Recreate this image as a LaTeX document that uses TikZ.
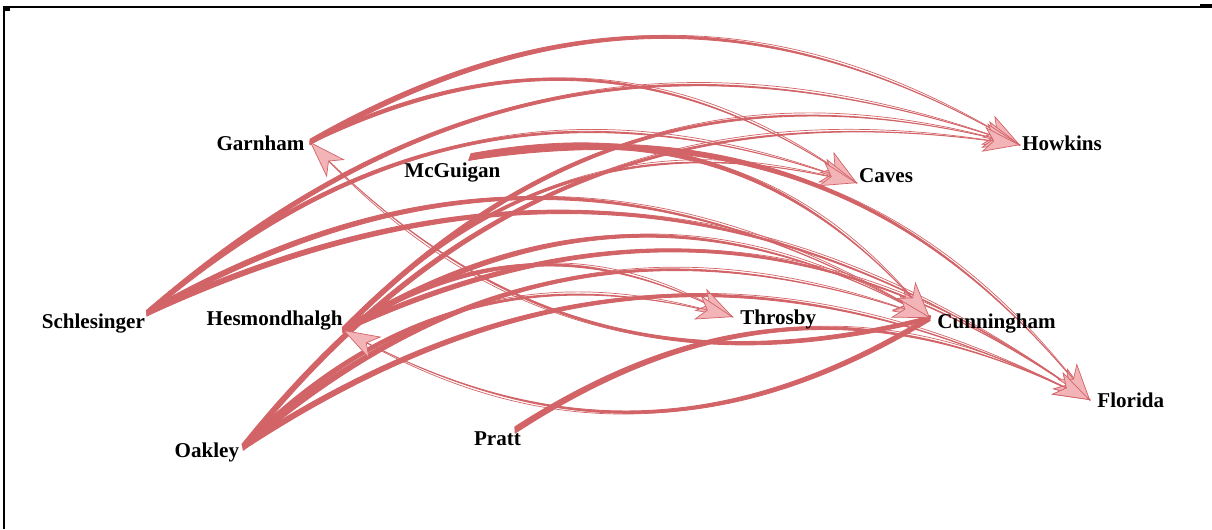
\documentclass[tikz,border=0pt]{standalone}
\usepackage{fontspec}
\setmainfont{Liberation Serif}
\usetikzlibrary{arrows.meta,positioning,calc}

\definecolor{edgered}{RGB}{210,100,104}
\definecolor{tippink}{RGB}{243,180,184}

\begin{document}
\begin{tikzpicture}[x=0.02cm, y=-0.02cm, font=\bfseries\fontsize{12}{14}\selectfont]
    \tikzstyle{lbl}=[inner sep=1pt, text=black]
    \tikzstyle{edgebody}=[fill=edgered, draw=edgered, line width=0.5pt, line join=round]
    \tikzstyle{arrowline}=[draw=edgered, line width=0.4pt,
        -{Stealth[length=7.4mm, width=5mm, inset=2mm, fill=tippink]}]

    \useasboundingbox (0,0) rectangle (1212,529);

    % frame
    \draw[line width=1.1pt] (4,529) -- (4,7) -- (1212,7);
    \draw[line width=2pt] (4,9) -- (10,9);
    \draw[line width=2pt] (1200,6) -- (1212,6);

    % authors
    \coordinate (Ga) at (310,142);
    \coordinate (Mc) at (470,157);
    \coordinate (Ca) at (857,183);
    \coordinate (Ho) at (1020,145);
    \coordinate (Sc) at (147,313);
    \coordinate (He) at (343,330);
    \coordinate (Th) at (733,317);
    \coordinate (Cu) at (930,318);
    \coordinate (Fl) at (1090,400);
    \coordinate (Oa) at (243,447);
    \coordinate (Pr) at (515,430);

    % edges: body first, arrow heads on top
    \def\edgelist{Ga/Ho/1.6pt, Ga/Ca/1.2pt, Sc/Ho/1.5pt, Sc/Ca/1.4pt, Sc/Cu/1.7pt,
        Sc/Fl/1.7pt, He/Ho/1.5pt, He/Ca/1.2pt, He/Th/1.5pt, He/Cu/1.7pt, He/Fl/1.5pt,
        Oa/Ho/1.7pt, Oa/Th/1.5pt, Oa/Cu/1.8pt, Oa/Fl/1.7pt, Mc/Cu/2pt, Mc/Fl/2pt,
        Pr/Fl/1.8pt, Cu/Ga/1.3pt, Cu/He/1.5pt}
    \foreach \s/\t/\w in \edgelist {
        \coordinate (c1) at ($(\s)!0.4!30:(\t)$);
        \coordinate (c2) at ($(\t)!0.4!-30:(\s)$);
        \filldraw[edgebody] ($(\s)!\w!90:(\t)$) .. controls ($(c1)!\w!90:(\t)$) and (c2) .. (\t)
            .. controls (c2) and ($(c1)!\w!-90:(\t)$) .. ($(\s)!\w!-90:(\t)$) -- cycle;
    }
    \foreach \s/\t/\w in \edgelist {
        \coordinate (c1) at ($(\s)!0.4!30:(\t)$);
        \coordinate (c2) at ($(\t)!0.4!-30:(\s)$);
        \draw[arrowline] (\s) .. controls (c1) and (c2) .. (\t);
    }

    % labels
    \node[lbl, left=2pt of Ga, yshift=-1pt] (Ga-l) {Garnham};
    \node[lbl, below=2pt of Mc, xshift=-10pt] (Mc-l) {McGuigan};
    \node[lbl, right=0pt of Ca, yshift=4pt] (Ca-l) {Caves};
    \node[lbl, right=0pt of Ho, yshift=1pt] (Ho-l) {Howkins};
    \node[lbl, left=0pt of Sc, yshift=-6pt] (Sc-l) {Schlesinger};
    \node[lbl, left=-1pt of He, yshift=5.5pt] (He-l) {Hesmondhalgh};
    \node[lbl, right=3pt of Th, yshift=-1.5pt] (Th-l) {Throsby};
    \node[lbl, right=3pt of Cu, yshift=-3pt] (Cu-l) {Cunningham};
    \node[lbl, right=3pt of Fl] (Fl-l) {Florida};
    \node[lbl, left=1pt of Oa, yshift=-3pt] (Oa-l) {Oakley};
    \node[lbl, below=0pt of Pr, xshift=-10pt] (Pr-l) {Pratt};
\end{tikzpicture}
\end{document}
